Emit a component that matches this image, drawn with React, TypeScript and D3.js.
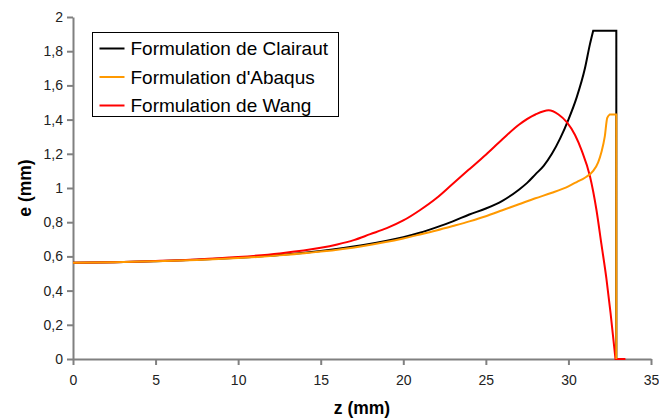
import React, { useEffect, useRef } from "react";
import * as d3 from "d3";

// z (mm) / e (mm)
const clairautZ = [0, 2.5, 5, 7.5, 10, 12.5, 15, 17.5, 20, 21, 22, 23, 24, 25, 26, 27, 27.5, 28, 28.5, 29, 29.5, 30, 30.5, 31, 31.3, 31.5];
const clairautE = [0.563, 0.566, 0.572, 0.58, 0.592, 0.608, 0.632, 0.665, 0.712, 0.738, 0.77, 0.805, 0.845, 0.88, 0.925, 0.99, 1.03, 1.08, 1.13, 1.2, 1.29, 1.4, 1.53, 1.7, 1.84, 1.92];
const clairautTailZ = [31.5, 32.9, 32.9];
const clairautTailE = [1.92, 1.92, 0];

const abaqusZ = [0, 2.5, 5, 7.5, 10, 12.5, 15, 17.5, 20, 21, 22, 23, 24, 25, 26, 27, 28, 29, 30, 30.5, 31, 31.5, 31.8, 32, 32.2, 32.35, 32.5];
const abaqusE = [0.563, 0.566, 0.572, 0.579, 0.59, 0.606, 0.628, 0.66, 0.705, 0.728, 0.752, 0.778, 0.805, 0.835, 0.87, 0.905, 0.94, 0.972, 1.01, 1.035, 1.06, 1.1, 1.15, 1.21, 1.3, 1.41, 1.43];
const abaqusTailZ = [32.5, 32.9, 32.9];
const abaqusTailE = [1.43, 1.43, 0];

const wangZ = [0, 2.5, 5, 7.5, 10, 12.5, 15, 16, 17, 18, 19, 20, 21, 22, 23, 24, 25, 26, 27, 28, 28.8, 29.4, 29.9, 30.4, 30.8, 31.3, 31.7, 32, 32.3, 32.55, 32.85];
const wangE = [0.563, 0.566, 0.573, 0.582, 0.596, 0.617, 0.65, 0.67, 0.695, 0.73, 0.765, 0.81, 0.87, 0.94, 1.025, 1.11, 1.195, 1.285, 1.37, 1.43, 1.455, 1.43, 1.385, 1.31, 1.22, 1.07, 0.87, 0.67, 0.47, 0.27, 0];
const wangTailZ = [32.85, 33.45];
const wangTailE = [0, 0];

const seriesNames = ["Formulation de Clairaut", "Formulation d'Abaqus", "Formulation de Wang"];
const seriesColors = ["#000000", "#FF9900", "#FF0000"];

const xTicks = [0, 5, 10, 15, 20, 25, 30, 35];
const yTicks = [0, 0.2, 0.4, 0.6, 0.8, 1, 1.2, 1.4, 1.6, 1.8, 2];

const App = () => {
  const svgRef = useRef<SVGSVGElement | null>(null);

  useEffect(() => {
    const width = 659;
    const height = 420;
    const marginLeft = 73;
    const marginRight = 8;
    const marginTop = 17;
    const marginBottom = 61;

    const x = d3.scaleLinear().domain([0, 35]).range([marginLeft, width - marginRight]);
    const y = d3.scaleLinear().domain([0, 2]).range([height - marginBottom, marginTop]);

    const svg = d3.select(svgRef.current);
    svg.selectAll("*").remove();

    svg.append("rect").attr("width", width).attr("height", height).attr("fill", "#fff");

    const axisColor = "#808080";
    const labelColor = "#222";
    const font = "Arial, 'Liberation Sans', sans-serif";

    // x axis
    svg
      .append("g")
      .attr("transform", `translate(0,${y(0)})`)
      .call(d3.axisBottom(x).tickValues(xTicks).tickSize(6).tickSizeOuter(0).tickPadding(10))
      .call((g) => g.select(".domain").attr("stroke", axisColor).attr("stroke-width", 2))
      .call((g) => g.selectAll(".tick line").attr("stroke", axisColor).attr("stroke-width", 2))
      .call((g) =>
        g.selectAll(".tick text").attr("fill", labelColor).attr("font-size", 14).attr("font-family", font)
      );

    // y axis
    svg
      .append("g")
      .attr("transform", `translate(${marginLeft},0)`)
      .call(
        d3
          .axisLeft(y)
          .tickValues(yTicks)
          .tickSize(6)
          .tickSizeOuter(0)
          .tickPadding(4)
          .tickFormat((d) => d3.format("~g")(+d).replace(".", ","))
      )
      .call((g) => g.select(".domain").attr("stroke", axisColor).attr("stroke-width", 2))
      .call((g) => g.selectAll(".tick line").attr("stroke", axisColor).attr("stroke-width", 2))
      .call((g) =>
        g.selectAll(".tick text").attr("fill", labelColor).attr("font-size", 14).attr("font-family", font)
      );

    // axis titles
    svg
      .append("text")
      .attr("x", (x(0) + x(35)) / 2)
      .attr("y", 414)
      .attr("text-anchor", "middle")
      .attr("font-family", font)
      .attr("font-weight", "bold")
      .attr("font-size", 17.5)
      .text("z (mm)");

    svg
      .append("text")
      .attr("transform", `translate(31,${(y(0) + y(2)) / 2}) rotate(-90)`)
      .attr("text-anchor", "middle")
      .attr("font-family", font)
      .attr("font-weight", "bold")
      .attr("font-size", 17.5)
      .text("e (mm)");

    const smooth = d3
      .line<[number, number]>()
      .x((d) => x(d[0]))
      .y((d) => y(d[1]))
      .curve(d3.curveMonotoneX);
    const straight = d3
      .line<[number, number]>()
      .x((d) => x(d[0]))
      .y((d) => y(d[1]));

    const series = [
      { z: clairautZ, e: clairautE, tz: clairautTailZ, te: clairautTailE },
      { z: abaqusZ, e: abaqusE, tz: abaqusTailZ, te: abaqusTailE },
      { z: wangZ, e: wangE, tz: wangTailZ, te: wangTailE },
    ];

    // Clairaut first, then Wang, then Abaqus on top (like the original)
    [0, 2, 1].forEach((i) => {
      const s = series[i];
      const pts = s.z.map((z, k) => [z, s.e[k]] as [number, number]);
      const tail = s.tz.map((z, k) => [z, s.te[k]] as [number, number]);
      const d = smooth(pts)! + straight(tail)!.replace(/^M/, "L");
      svg
        .append("path")
        .attr("d", d)
        .attr("fill", "none")
        .attr("stroke", seriesColors[i])
        .attr("stroke-width", 2)
        .attr("stroke-linejoin", "miter");
    });

    // legend
    const legend = svg.append("g").attr("transform", "translate(92.5,32.5)");
    legend
      .append("rect")
      .attr("width", 246)
      .attr("height", 84)
      .attr("fill", "#fff")
      .attr("stroke", "#000")
      .attr("stroke-width", 1);
    seriesNames.forEach((name, i) => {
      const cy = 16 + i * 28.5;
      legend
        .append("line")
        .attr("x1", 7)
        .attr("x2", 32)
        .attr("y1", cy)
        .attr("y2", cy)
        .attr("stroke", seriesColors[i])
        .attr("stroke-width", 2);
      legend
        .append("text")
        .attr("x", 38)
        .attr("y", cy + 6.5)
        .attr("font-family", font)
        .attr("font-size", 19)
        .attr("fill", "#000")
        .text(name);
    });
  }, []);

  return (
    <svg
      ref={svgRef}
      width={659}
      height={420}
      style={{ position: "absolute", left: 0, top: 0 }}
    ></svg>
  );
};

export default App;
